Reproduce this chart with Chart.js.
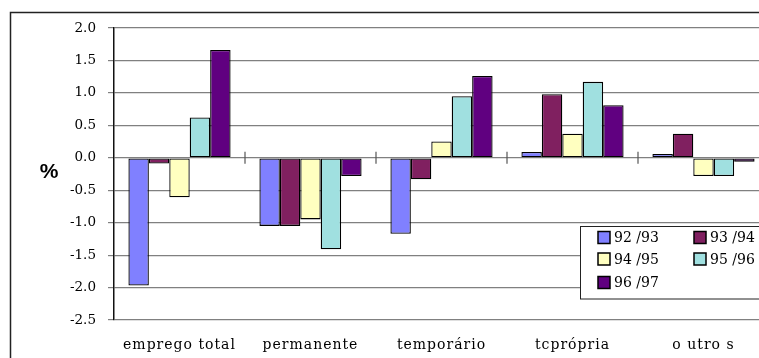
<!DOCTYPE html>
<html>
<head>
<meta charset="utf-8">
<script src="https://cdn.jsdelivr.net/npm/chart.js@4/dist/chart.umd.min.js"></script>
<style>
  html, body { margin: 0; padding: 0; background: #ffffff; overflow: hidden; }
  #wrap { position: absolute; left: 0; top: 0; width: 800px; height: 358px; }
</style>
</head>
<body>
<div id="wrap"><canvas id="c" width="800" height="358"></canvas></div>
<script>
// Categories of employment
const categories = ['emprego total', 'permanente', 'temporário', 'tcprópria', 'o utro s'];

// Year-on-year change (%) per period
const periods = ['92 /93', '93 /94', '94 /95', '95 /96', '96 /97'];
const v9293 = [-1.97, -1.05, -1.17, 0.09, 0.06];
const v9394 = [-0.09, -1.05, -0.33, 0.98, 0.37];
const v9495 = [-0.61, -0.95, 0.25, 0.37, -0.28];
const v9596 = [0.62, -1.41, 0.95, 1.17, -0.28];
const v9697 = [1.66, -0.28, 1.26, 0.81, -0.06];

// Y axis ticks
const yTicks = [2.0, 1.5, 1.0, 0.5, 0.0, -0.5, -1.0, -1.5, -2.0, -2.5];

const seriesValues = [v9293, v9394, v9495, v9596, v9697];
const seriesColors = ['#8080ff', '#802060', '#ffffc0', '#a0e0e0', '#600080'];

const datasets = periods.map((p, i) => ({
  label: p,
  data: seriesValues[i],
  backgroundColor: seriesColors[i],
  borderColor: '#000000',
  borderWidth: 1.3,
  borderSkipped: false,
  inflateAmount: 0,
  categoryPercentage: 0.78,
  barPercentage: 1.0
}));

const serif = "'DejaVu Serif', serif";

// Outer frame, "%" label, zero-line tick marks and legend
const decorations = {
  id: 'decorations',
  afterLayout(chart) {
    // wider letter spacing for the category labels
    const s = chart.scales.x;
    if (!s._spaced) {
      const orig = s.drawLabels.bind(s);
      s.drawLabels = function (area) {
        const c = this.ctx;
        const prev = c.letterSpacing;
        c.letterSpacing = '1px';
        orig(area);
        c.letterSpacing = prev;
      };
      s._spaced = true;
    }
  },
  beforeDraw(chart) {
    const ctx = chart.ctx;
    ctx.save();
    ctx.fillStyle = '#ffffff';
    ctx.fillRect(0, 0, chart.width, chart.height);
    ctx.strokeStyle = '#222222';
    ctx.lineWidth = 1.5;
    ctx.strokeRect(10.5, 12.5, 900, 600);
    ctx.fillStyle = '#000000';
    ctx.font = "bold 21px 'Liberation Sans', Arial, sans-serif";
    ctx.textAlign = 'center';
    ctx.textBaseline = 'middle';
    ctx.fillText('%', 49, 172);
    ctx.restore();
  },
  afterDatasetsDraw(chart) {
    const ctx = chart.ctx;
    const x = chart.scales.x, y = chart.scales.y;
    const y0 = y.getPixelForValue(0);
    ctx.save();
    ctx.strokeStyle = '#555555';
    ctx.lineWidth = 1.2;
    for (let i = 1; i < categories.length; i++) {
      const xb = (x.getPixelForValue(i - 1) + x.getPixelForValue(i)) / 2;
      ctx.beginPath();
      ctx.moveTo(xb, y0 - 6);
      ctx.lineTo(xb, y0 + 6);
      ctx.stroke();
    }
    ctx.restore();
  },
  afterDraw(chart) {
    const ctx = chart.ctx;
    ctx.save();
    ctx.fillStyle = '#ffffff';
    ctx.fillRect(580.5, 226.5, 260, 72.5);
    ctx.strokeStyle = '#222222';
    ctx.lineWidth = 1;
    ctx.strokeRect(580.5, 226.5, 260, 72.5);
    const cols = [598, 694];
    const rows = [242, 263.5, 287];
    ctx.font = '14px ' + serif;
    ctx.textAlign = 'left';
    ctx.textBaseline = 'alphabetic';
    chart.data.datasets.forEach((ds, i) => {
      const cx = cols[i % 2];
      const by = rows[Math.floor(i / 2)];
      ctx.fillStyle = ds.backgroundColor;
      ctx.fillRect(cx, by - 10.5, 12, 12);
      ctx.strokeStyle = '#000000';
      ctx.lineWidth = 1.5;
      ctx.strokeRect(cx, by - 10.5, 12, 12);
      ctx.fillStyle = '#000000';
      ctx.fillText(ds.label, cx + 16, by);
    });
    ctx.restore();
  }
};

new Chart(document.getElementById('c'), {
  type: 'bar',
  data: { labels: categories, datasets },
  options: {
    responsive: false,
    animation: false,
    devicePixelRatio: 1,
    datasets: { bar: { categoryPercentage: 0.78, barPercentage: 1.0, grouped: true } },
    layout: { padding: { left: 0, top: 28, right: 31, bottom: 0 } },
    plugins: { legend: { display: false }, tooltip: { enabled: false } },
    scales: {
      x: {
        grid: { display: false, drawTicks: false },
        border: { display: false },
        ticks: {
          color: '#000000',
          padding: 17,
          maxRotation: 0,
          autoSkip: false,
          font: { family: serif, size: 14 }
        },
        afterFit(scale) { scale.height = 38; }
      },
      y: {
        min: yTicks[yTicks.length - 1],
        max: yTicks[0],
        afterBuildTicks(scale) { scale.ticks = yTicks.map(v => ({ value: v })); },
        grid: { color: '#808080', lineWidth: 1.2, tickLength: 6, drawTicks: true },
        border: { display: true, color: '#111111', width: 1.5 },
        ticks: {
          color: '#000000',
          padding: 12,
          font: { family: serif, size: 13.5 },
          callback: v => Number(v).toFixed(1)
        },
        afterFit(scale) { scale.width = 114; }
      }
    }
  },
  plugins: [decorations]
});
</script>
</body>
</html>
